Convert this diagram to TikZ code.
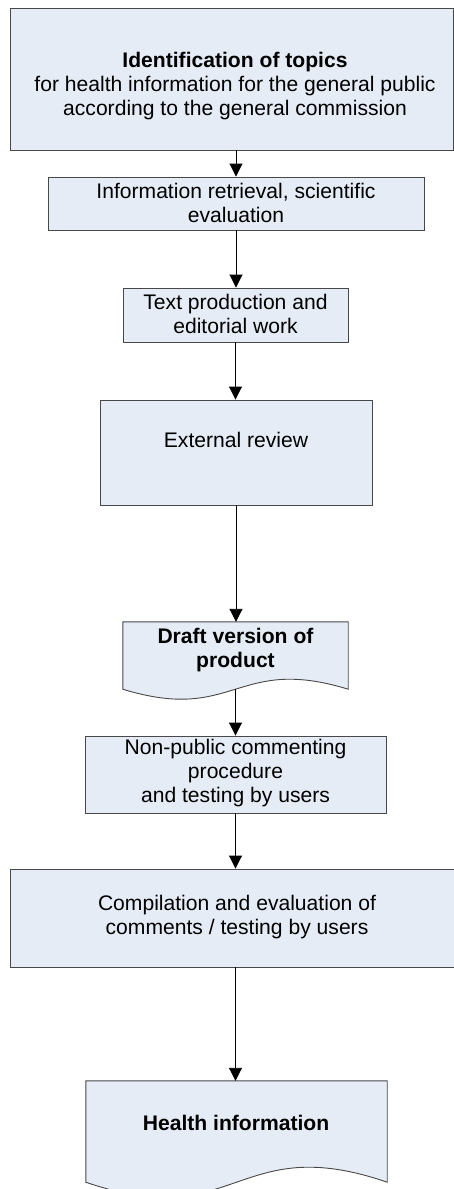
\documentclass[tikz,border=0pt]{standalone}
\usepackage{fontspec}
\setmainfont{Liberation Sans}
\usetikzlibrary{arrows.meta,backgrounds}
\definecolor{boxfill}{RGB}{230,236,246}
\definecolor{boxline}{RGB}{72,72,72}

\begin{document}
\begin{tikzpicture}[x=1pt,y=-1pt,
  label text/.style={font=\fontsize{21.1}{24}\selectfont, align=center, inner sep=0pt},
  box/.style={draw=boxline, fill=boxfill, line width=0.9pt, inner sep=0pt},
  docframe/.style={inner sep=0pt},
  docline/.style={draw=boxline, fill=boxfill, line width=0.9pt},
  flow/.style={draw=black, line width=0.9pt, -{Triangle[length=13pt,width=13pt]}}]

\useasboundingbox (0,0) rectangle (454,1189);

% process boxes
\node[box, minimum width=443pt, minimum height=142pt] (topics)   at (231.5,79)    {};
\node[box, minimum width=376pt, minimum height=53pt]  (retrieval) at (236,203.5)  {};
\node[box, minimum width=225pt, minimum height=54pt]  (textprod) at (235.5,315)   {};
\node[box, minimum width=272pt, minimum height=105pt] (review)   at (236,452.5)   {};
\node[box, minimum width=301pt, minimum height=77pt]  (comment)  at (235.5,774.5) {};
\node[box, minimum width=444pt, minimum height=98pt]  (compile)  at (232,918)     {};

% document shapes: a straight top and sides, a wavy lower edge
\node[docframe, minimum width=225pt, minimum height=67pt]  (draft)  at (235.5,655.5) {};
\node[docframe, minimum width=301pt, minimum height=101pt] (health) at (236.5,1131.5) {};
\begin{scope}[on background layer]
  \path[docline] (draft.south east) -- (draft.north east) -- (draft.north west)
    -- (draft.south west)
    .. controls ([yshift=-34.6pt]draft.south) and ([yshift=34.6pt]draft.south) ..
    (draft.south east) -- cycle;
  \path[docline] (health.south east) -- (health.north east) -- (health.north west)
    -- (health.south west)
    .. controls ([yshift=-52pt]health.south) and ([yshift=52pt]health.south) ..
    (health.south east) -- cycle;
\end{scope}

% texts
\node[label text] (topics-text) at (235,86)
  {\textbf{Identification of topics}\\for health information for the general public\\according to the general commission};
\node[label text] (retrieval-text) at (236,203) {Information retrieval, scientific\\evaluation};
\node[label text] (textprod-text) at (235.5,314) {Text production and\\editorial work};
\node[label text] (review-text) at (236,440) {External review};
\node[label text] (draft-text) at (235.5,650) {\textbf{Draft version of}\\\textbf{product}};
\node[label text] (comment-text) at (235.5,773.5) {Non-public commenting\\procedure\\and testing by users};
\node[label text] (compile-text) at (237,917) {Compilation and evaluation of\\comments / testing by users};
\node[label text] (health-text) at (236,1123) {\textbf{Health information}};

% connectors
\draw[flow] (topics.south -| retrieval.north) -- (retrieval.north);
\draw[flow] (retrieval.south) -- (retrieval.south |- textprod.north);
\draw[flow] (textprod.south) -- (textprod.south |- review.north);
\draw[flow] (review.south) -- (review.south |- draft.north);
\draw[flow] (draft.south) -- (draft.south |- comment.north);
\draw[flow] (comment.south) -- (comment.south |- compile.north);
\draw[flow] (compile.south -| comment.south) -- (comment.south |- health.north);
\end{tikzpicture}
\end{document}
